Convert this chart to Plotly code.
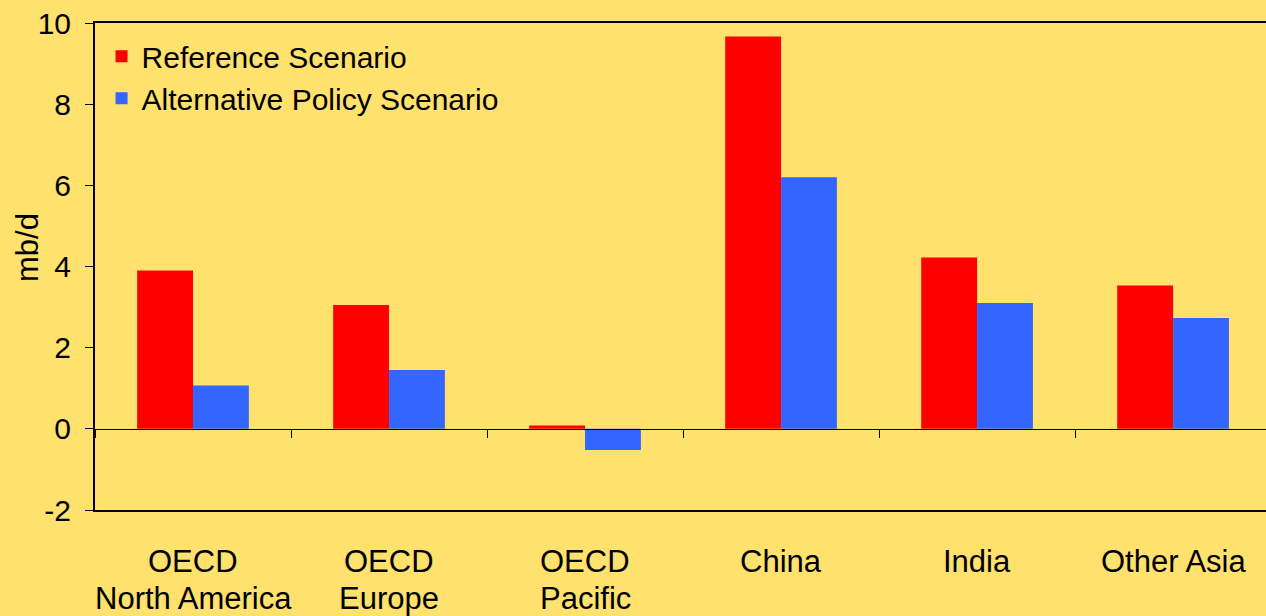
import plotly.graph_objects as go

categories = ["OECD North America", "OECD Europe", "OECD Pacific", "China", "India", "Other Asia"]
label_line1 = ["OECD", "OECD", "OECD", "China", "India", "Other Asia"]
label_line2 = ["North America", "Europe", "Pacific", "", "", ""]
reference = [3.9, 3.05, 0.08, 9.67, 4.22, 3.53]
alternative = [1.07, 1.45, -0.52, 6.2, 3.1, 2.73]
y_ticks = [-2, 0, 2, 4, 6, 8, 10]
y_tick_text = ["-2", "0", "2", "4", "6", "8", "10"]
y_title = "mb/d"

FONT = "Liberation Sans, Arial, sans-serif"
BG = "#FFE16E"

fig = go.Figure()
fig.add_trace(go.Bar(x=categories, y=reference, name="Reference Scenario",
                     marker=dict(color="#FF0000", line=dict(width=0))))
fig.add_trace(go.Bar(x=categories, y=alternative, name="Alternative Policy Scenario",
                     marker=dict(color="#3366FF", line=dict(width=0))))
# invisible trace to drive the tick axis drawn at zero
fig.add_trace(go.Scatter(x=categories, y=[None] * len(categories), xaxis="x2",
                         showlegend=False, hoverinfo="skip"))

for c, l1, l2 in zip(categories, label_line1, label_line2):
    fig.add_annotation(x=c, xref="x", y=0, yref="paper", text=l1, showarrow=False,
                       yanchor="middle", yshift=-51,
                       font=dict(family=FONT, size=31, color="black"))
    if l2:
        fig.add_annotation(x=c, xref="x", y=0, yref="paper", text=l2, showarrow=False,
                           yanchor="middle", yshift=-88,
                           font=dict(family=FONT, size=31, color="black"))

fig.add_annotation(x=0, xref="paper", xshift=-67, y=0.538, yref="paper", text=y_title,
                   textangle=-90, showarrow=False, xanchor="center", yanchor="middle",
                   font=dict(family=FONT, size=31, color="black"))

fig.update_layout(
    width=1266, height=616,
    paper_bgcolor=BG, plot_bgcolor=BG,
    margin=dict(l=95, r=0, t=23, b=106),
    barmode="group", bargap=0.43, bargroupgap=0,
    font=dict(family=FONT, size=30, color="black"),
    showlegend=True,
    legend=dict(x=0.0056, y=0.985, xanchor="left", yanchor="top", bgcolor="rgba(0,0,0,0)",
                font=dict(family=FONT, size=30, color="black"),
                itemsizing="constant", tracegroupgap=0, itemwidth=30),
    xaxis=dict(type="category", range=[-0.5, 5.474], showticklabels=False, ticks="",
               showline=True, linecolor="black", linewidth=2, mirror=True, showgrid=False,
               zeroline=False, fixedrange=True),
    xaxis2=dict(type="category", overlaying="x", matches="x", anchor="free", position=2 / 12,
                showticklabels=False, ticks="outside", tickson="boundaries", ticklen=8,
                tickcolor="black", tickwidth=1, showline=True, linecolor="black", linewidth=1,
                showgrid=False, zeroline=False),
    yaxis=dict(range=[-2, 10], tickvals=y_ticks, ticktext=y_tick_text, ticks="outside",
               ticklen=8, tickcolor="black",
               showline=True, linecolor="black", linewidth=2, showgrid=False, zeroline=False,
               tickfont=dict(family=FONT, size=30), ticklabelstandoff=8),
)

fig.write_html("out.html", config={"displayModeBar": False},
               post_script="document.body.style.margin='0px';document.body.style.overflow='hidden';")
